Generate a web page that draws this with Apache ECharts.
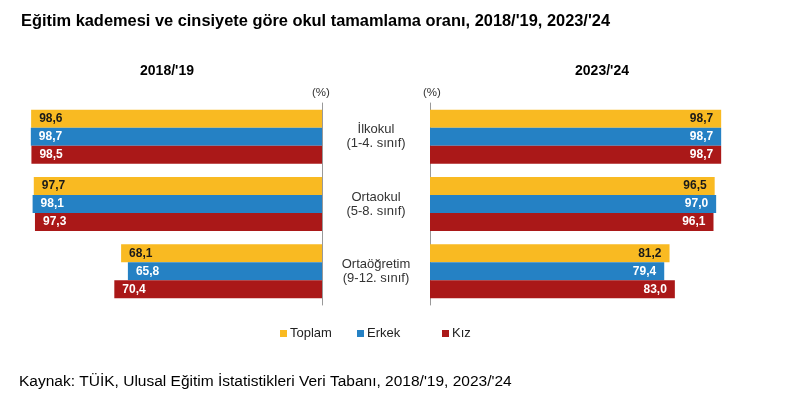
<!DOCTYPE html>
<html><head><meta charset="utf-8">
<script src="https://cdn.jsdelivr.net/npm/echarts@6/dist/echarts.min.js"></script>
<style>html,body{margin:0;padding:0;background:#fff}#c{width:806px;height:395px}</style>
</head><body><div id="c"></div>
<script>
const categories = ['İlkokul\n(1-4. sınıf)', 'Ortaokul\n(5-8. sınıf)', 'Ortaöğretim\n(9-12. sınıf)'];
const seriesNames = ['Toplam', 'Erkek', 'Kız'];
const toplam2018 = [98.6, 97.7, 68.1];
const erkek2018 = [98.7, 98.1, 65.8];
const kiz2018 = [98.5, 97.3, 70.4];
const toplam2023 = [98.7, 96.5, 81.2];
const erkek2023 = [98.7, 97.0, 79.4];
const kiz2023 = [98.7, 96.1, 83.0];
const panelTitles = ["2018/'19", "2023/'24"];

const colors = ['#F9BA22', '#2581C4', '#AA1818'];
const labelColors = ['#1a1a1a', '#ffffff', '#ffffff'];
const FONT = '"Liberation Sans", Arial, sans-serif';
const fmt = p => p.value.toFixed(1).replace('.', ',');

function mk(name, data, idx, grid, pos) {
  return {
    name, type: 'bar', data, xAxisIndex: grid, yAxisIndex: grid,
    barWidth: 18, barGap: '0%',
    itemStyle: { color: colors[idx] },
    label: { show: true, position: pos, distance: 8, formatter: fmt,
      color: labelColors[idx], fontFamily: FONT, fontWeight: 'bold', fontSize: 12 }
  };
}

const chart = echarts.init(document.getElementById('c'), null, { renderer: 'canvas' });
chart.setOption({
  backgroundColor: '#fff',
  animation: false,
  textStyle: { fontFamily: FONT },
  title: [
    { text: "Eğitim kademesi ve cinsiyete göre okul tamamlama oranı, 2018/'19, 2023/'24", left: 21, top: 13, padding: 0,
      textStyle: { fontFamily: FONT, fontSize: 16.4, fontWeight: 'bold', color: '#000' } },
    { text: panelTitles[0], left: 167, top: 64, padding: 0, textAlign: 'center',
      textStyle: { fontFamily: FONT, fontSize: 14, fontWeight: 'bold', color: '#000' } },
    { text: panelTitles[1], left: 602, top: 64, padding: 0, textAlign: 'center',
      textStyle: { fontFamily: FONT, fontSize: 14, fontWeight: 'bold', color: '#000' } },
    { text: 'Kaynak: TÜİK, Ulusal Eğitim İstatistikleri Veri Tabanı, 2018/\'19, 2023/\'24', left: 19, top: 374, padding: 0,
      textStyle: { fontFamily: FONT, fontSize: 15.5, fontWeight: 'normal', color: '#000' } }
  ],
  legend: [0, 1, 2].map((i) => ({
    data: [seriesNames[i]], left: [275, 352, 437][i], top: 322,
    itemWidth: 7, itemHeight: 7, icon: 'rect',
    textStyle: { fontFamily: FONT, fontSize: 13, color: '#222', padding: [0, 0, 0, -2] }
  })),
  graphic: [
    { type: 'text', left: 312, top: 87, style: { text: '(%)', font: '11.5px ' + FONT, fill: '#333' } },
    { type: 'text', left: 423, top: 87, style: { text: '(%)', font: '11.5px ' + FONT, fill: '#333' } }
  ],
  grid: [
    { left: 27, width: 295, top: 103, bottom: 90 },
    { left: 430, width: 295, top: 103, bottom: 90 }
  ],
  xAxis: [
    { gridIndex: 0, type: 'value', min: 0, max: 100, inverse: true, show: false },
    { gridIndex: 1, type: 'value', min: 0, max: 100, show: false }
  ],
  yAxis: [
    { gridIndex: 0, type: 'category', data: categories, inverse: true, position: 'right',
      axisLine: { show: true, lineStyle: { color: '#999', width: 1 } }, axisTick: { show: false }, axisLabel: { show: false } },
    { gridIndex: 1, type: 'category', inverse: true, position: 'left', data: categories,
      axisLine: { show: true, lineStyle: { color: '#999', width: 1 } }, axisTick: { show: false },
      axisLabel: { show: true, align: 'center', margin: 54, fontFamily: FONT, fontSize: 13, color: '#333', lineHeight: 14 } }
  ],
  series: [
    mk(seriesNames[0], toplam2018, 0, 0, 'insideLeft'),
    mk(seriesNames[1], erkek2018, 1, 0, 'insideLeft'),
    mk(seriesNames[2], kiz2018, 2, 0, 'insideLeft'),
    mk(seriesNames[0], toplam2023, 0, 1, 'insideRight'),
    mk(seriesNames[1], erkek2023, 1, 1, 'insideRight'),
    mk(seriesNames[2], kiz2023, 2, 1, 'insideRight')
  ]
});
</script></body></html>
